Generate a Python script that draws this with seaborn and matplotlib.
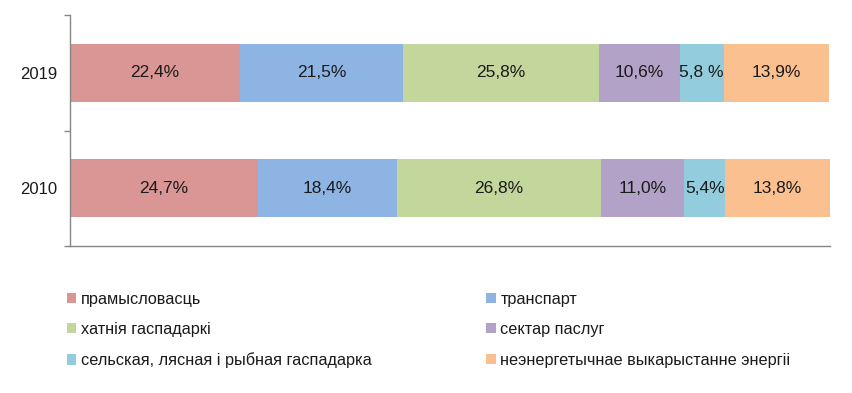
import numpy as np
import pandas as pd
import matplotlib.pyplot as plt
import seaborn as sns
from matplotlib.patches import Patch
from matplotlib.ticker import FixedLocator

years = ['2019', '2010']
sectors = ['прамысловасць', 'транспарт', 'хатнія гаспадаркі', 'сектар паслуг',
           'сельская, лясная і рыбная гаспадарка', 'неэнергетычнае выкарыстанне энергіі']
vals_2019 = [22.4, 21.5, 25.8, 10.6, 5.8, 13.9]
vals_2010 = [24.7, 18.4, 26.8, 11.0, 5.4, 13.8]
labels_2019 = ['22,4%', '21,5%', '25,8%', '10,6%', '5,8 %', '13,9%']
labels_2010 = ['24,7%', '18,4%', '26,8%', '11,0%', '5,4%', '13,8%']
colors = ['#D99694', '#8EB4E3', '#C3D69B', '#B3A2C7', '#93CDDD', '#FAC090']

sns.set_style('white')
plt.rcParams['font.family'] = ['Liberation Sans', 'DejaVu Sans']

df = pd.DataFrame({'year': np.repeat(years, len(sectors)),
                   'sector': sectors * 2,
                   'value': vals_2019 + vals_2010,
                   'label': labels_2019 + labels_2010})
df['cum'] = df.groupby('year', sort=False)['value'].cumsum()
df['start'] = df['cum'] - df['value']

fig = plt.figure(figsize=(8.53, 3.93), dpi=100)
ax = fig.add_axes([70 / 853, 1 - 246 / 393, 760 / 853, 231 / 393])

# stacked bars: draw cumulative totals from the last segment back to the first
for sector, color in reversed(list(zip(sectors, colors))):
    sub = df[df['sector'] == sector]
    sns.barplot(data=sub, x='cum', y='year', order=years, color=color,
                width=0.5, orient='h', ax=ax, saturation=1, linewidth=0)

for _, r in df.iterrows():
    ax.text(r['start'] + r['value'] / 2, years.index(r['year']), r['label'],
            ha='center', va='center', fontsize=12.5, color='#1a1a1a')

ax.set_xlim(0, df['cum'].max())
ax.set_ylim(1.5, -0.5)
ax.set_xlabel('')
ax.set_ylabel('')
ax.set_xticks([])
ax.yaxis.set_minor_locator(FixedLocator([-0.5, 0.5, 1.5]))
ax.tick_params(axis='y', which='major', length=0, pad=9, labelsize=12, labelcolor='#1a1a1a')
ax.tick_params(axis='y', which='minor', length=4, color='#868686', width=1, left=True)
for s in ['top', 'right']:
    ax.spines[s].set_visible(False)
for s in ['left', 'bottom']:
    ax.spines[s].set_color('#868686')
    ax.spines[s].set_linewidth(1)

handles = [Patch(facecolor=c, edgecolor='none') for c in colors]
# reorder so the legend reads row by row in two columns
order = [0, 2, 4, 1, 3, 5]
fig.legend([handles[i] for i in order], [sectors[i] for i in order],
           ncol=2, loc='upper left', bbox_to_anchor=(52 / 853, 1 - 277 / 393),
           frameon=False, fontsize=11.7, handlelength=0.6, handleheight=0.6,
           handletextpad=0.3, labelspacing=0.95, columnspacing=7.0,
           labelcolor='#1a1a1a')

fig.savefig('out.png', dpi=100)
